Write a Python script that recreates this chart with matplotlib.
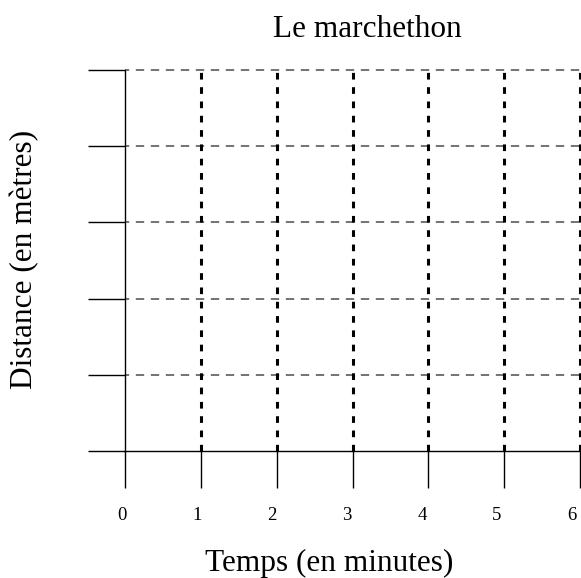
import matplotlib
matplotlib.use("Agg")
import matplotlib.pyplot as plt
from matplotlib.transforms import ScaledTranslation

plt.rcParams['font.family'] = ['Liberation Serif', 'DejaVu Serif']
plt.rcParams['lines.scale_dashes'] = False

title = "Le marchethon"
xlabel = "Temps (en minutes)"
ylabel = "Distance (en mètres)"
time_ticks = [0, 1, 2, 3, 4, 5, 6]
time_labels = ["0", "1", "2", "3", "4", "5", "6"]
dist_ticks = [0, 1, 2, 3, 4, 5]

W, H = 581, 578
fig = plt.figure(figsize=(W / 100, H / 100), dpi=100)
x0, x1 = 125.3, 580.0
yb, yt = 451.0, 70.0
ax = fig.add_axes([x0 / W, (H - yb) / H, (x1 - x0) / W, (yb - yt) / H])
ax.set_xlim(time_ticks[0], time_ticks[-1])
ax.set_ylim(dist_ticks[0], dist_ticks[-1])

for s in ['top', 'right']:
    ax.spines[s].set_visible(False)
for s in ['left', 'bottom']:
    ax.spines[s].set_linewidth(1.0)
    ax.spines[s].set_color('black')

ax.set_xticks(time_ticks)
ax.set_xticklabels(time_labels, fontsize=13.5)
ax.set_yticks(dist_ticks)
ax.set_yticklabels([])
ax.tick_params(axis='both', direction='out', length=26.6, width=1.0, color='black')
ax.tick_params(axis='x', pad=14)

# tick labels in the reference sit slightly left of their ticks, increasingly so
for k, lab in enumerate(ax.get_xticklabels()):
    dx = (-3.3 - 0.78 * k) / 100.0
    lab.set_transform(lab.get_transform() + ScaledTranslation(dx, 0, fig.dpi_scale_trans))

# horizontal dashed grid (thin gray)
ax.hlines(dist_ticks[1:], time_ticks[0], time_ticks[-1], colors='#4d4d4d',
          linewidth=1.1, linestyles=[(3.0, (6.0, 4.8))], clip_on=False, zorder=2)
# vertical dashed grid (thick black)
ax.vlines(time_ticks[1:], dist_ticks[0], dist_ticks[-1], colors='black',
          linewidth=2.2, linestyles=[(0, (4.8, 5.5))], clip_on=False, zorder=3)

fig.text(367 / W, 1 - 37 / H, title, fontsize=22.5, ha='center', va='baseline')
fig.text(329 / W, 1 - 571 / H, xlabel, fontsize=22.5, ha='center', va='baseline')
fig.text(25 / W, 1 - 259 / H, ylabel, fontsize=22.5, ha='center', va='center',
         rotation=90)

fig.savefig("out.png", dpi=100)
